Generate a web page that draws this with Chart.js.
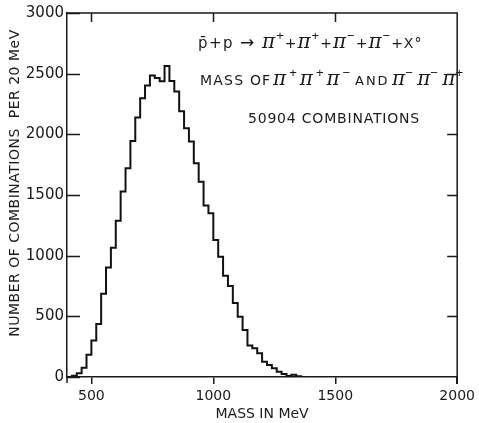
<!DOCTYPE html>
<html>
<head>
<meta charset="utf-8">
<script src="https://cdn.jsdelivr.net/npm/chart.js@4.4.0/dist/chart.umd.min.js"></script>
<style>
  html, body { margin: 0; padding: 0; background: #fff; }
  canvas { display: block; }
</style>
</head>
<body>
<canvas id="chart" width="479" height="423"></canvas>
<script>
// left edge of each 20 MeV bin (last one closes the histogram)
const massEdges = [400, 420, 440, 460, 480, 500, 520, 540, 560, 580,
                   600, 620, 640, 660, 680, 700, 720, 740, 760, 780,
                   800, 820, 840, 860, 880, 900, 920, 940, 960, 980,
                   1000, 1020, 1040, 1060, 1080, 1100, 1120, 1140, 1160, 1180,
                   1200, 1220, 1240, 1260, 1280, 1300, 1320, 1340, 1360, 1380];
// combinations per 20 MeV
const counts = [0, 10, 30, 77, 184, 300, 437, 687, 902, 1066,
                1288, 1528, 1720, 1946, 2138, 2298, 2403, 2485, 2464, 2438,
                2564, 2440, 2352, 2190, 2050, 1940, 1761, 1610, 1414, 1350,
                1129, 992, 835, 750, 610, 497, 387, 260, 237, 195,
                126, 99, 72, 44, 25, 8, 18, 6, 0, 0];
const xTicks = [500, 1000, 1500, 2000];
const yTicks = [0, 500, 1000, 1500, 2000, 2500, 3000];

const ink = "#1a1a1a";
const family = '"DejaVu Sans", sans-serif';
const SYM = '"Liberation Sans", sans-serif';
const PIF = 'italic 20px "DejaVu Serif", serif';
const SUPF = "13px " + SYM;
const PLUS = "14px " + family;

function drawRuns(ctx, x, y, runs, ls) {
    runs.forEach(r => {
        ctx.font = r.f;
        ctx.letterSpacing = r.ls || ls || "0px";
        ctx.fillText(r.t, x, y + (r.dy || 0));
        x += ctx.measureText(r.t).width;
    });
    ctx.letterSpacing = "0px";
}

function pion(sign) {
    return [{ t: "π", f: PIF }, { t: sign, f: SUPF, dy: -8 }];
}

const frame = {
    id: "frame",
    afterDraw(chart) {
        const { ctx, chartArea: a, scales: { x, y } } = chart;
        ctx.save();
        ctx.strokeStyle = ink;
        ctx.lineWidth = 1.5;
        ctx.beginPath();
        ctx.moveTo(a.left, a.top);
        ctx.lineTo(a.right, a.top);
        ctx.lineTo(a.right, a.bottom + 7);
        ctx.moveTo(a.left, a.bottom);
        ctx.lineTo(a.left, a.bottom + 6);
        ctx.stroke();

        ctx.beginPath();
        yTicks.forEach(v => {
            const py = Math.round(y.getPixelForValue(v)) + 0.5;
            ctx.moveTo(a.left, py);
            ctx.lineTo(a.left + 13, py);
            if (v > 0 && v < 3000) {
                ctx.moveTo(a.right, py);
                ctx.lineTo(a.right - 10, py);
            }
        });
        xTicks.slice(0, -1).forEach(v => {
            const px = Math.round(x.getPixelForValue(v)) + 0.5;
            ctx.moveTo(px, a.top);
            ctx.lineTo(px, a.top + 9);
        });
        ctx.stroke();

        // y axis title
        ctx.fillStyle = ink;
        ctx.textBaseline = "middle";
        ctx.textAlign = "center";
        ctx.font = "14px " + family;
        ctx.letterSpacing = "0.5px";
        ctx.translate(15, (a.top + a.bottom) / 2 - 12);
        ctx.rotate(-Math.PI / 2);
        ctx.fillText("NUMBER OF COMBINATIONS  PER 20 MeV", 0, 0);
        ctx.setTransform(1, 0, 0, 1, 0, 0);
        ctx.letterSpacing = "0px";

        // reaction text block
        ctx.textAlign = "left";
        ctx.textBaseline = "alphabetic";
        const L = a.left, T = a.top;
        drawRuns(ctx, L + 131, T + 35, [{ t: "p\u0304+p", f: "15px " + family, ls: "1.5px" }]);
        drawRuns(ctx, L + 173, T + 35, [{ t: "\u2192", f: "17px " + family }]);
        drawRuns(ctx, L + 195, T + 35, [
            ...pion("+"), { t: "+", f: PLUS },
            ...pion("+"), { t: "+", f: PLUS },
            ...pion("\u2212"), { t: "+", f: PLUS },
            ...pion("\u2212"), { t: "+X°", f: PLUS }
        ], "1px");

        drawRuns(ctx, L + 133, T + 72, [{ t: "MASS OF", f: "14px " + family, ls: "1.2px" }]);
        drawRuns(ctx, L + 206, T + 72, [...pion("+"), ...pion("+"), ...pion("\u2212")], "3px");
        drawRuns(ctx, L + 288, T + 72, [{ t: "AND", f: "13px " + family, ls: "2px" }]);
        drawRuns(ctx, L + 325, T + 72, [
            ...pion("\u2212"), { t: " ", f: PLUS },
            ...pion("\u2212"), { t: " ", f: PLUS },
            ...pion("+")
        ]);

        drawRuns(ctx, L + 181, T + 110, [{ t: "50904 COMBINATIONS", f: "14px " + family, ls: "0.8px" }]);
        ctx.restore();
    }
};

new Chart(document.getElementById("chart"), {
    type: "line",
    data: {
        datasets: [{
            data: massEdges.map((m, i) => ({ x: m, y: counts[i] })),
            stepped: "before",
            borderColor: "#111",
            borderWidth: 2,
            pointRadius: 0,
            fill: false
        }]
    },
    options: {
        responsive: false,
        animation: false,
        layout: { padding: { top: 13, right: 17, left: 0, bottom: 0 } },
        plugins: { legend: { display: false }, tooltip: { enabled: false } },
        scales: {
            x: {
                type: "linear",
                min: 400,
                max: 2000,
                afterBuildTicks: s => { s.ticks = xTicks.map(v => ({ value: v })); },
                afterFit: s => { s.height = 46; },
                grid: { drawOnChartArea: false, tickLength: 7, color: ink, lineWidth: 1.5 },
                border: { color: ink, width: 1.5 },
                ticks: { font: { family: family, size: 14 }, color: ink, padding: 4, maxRotation: 0, callback: v => String(v) },
                title: { display: true, text: "MASS IN MeV", color: ink, font: { family: family, size: 14 }, padding: 0 }
            },
            y: {
                type: "linear",
                min: 0,
                max: 3000,
                afterBuildTicks: s => { s.ticks = yTicks.map(v => ({ value: v })); },
                afterFit: s => { s.width = 67; },
                grid: { drawOnChartArea: false, drawTicks: false },
                border: { color: ink, width: 1.5 },
                ticks: { font: { family: family, size: 15 }, color: ink, padding: 3, callback: v => String(v) }
            }
        }
    },
    plugins: [frame]
});
</script>
</body>
</html>
